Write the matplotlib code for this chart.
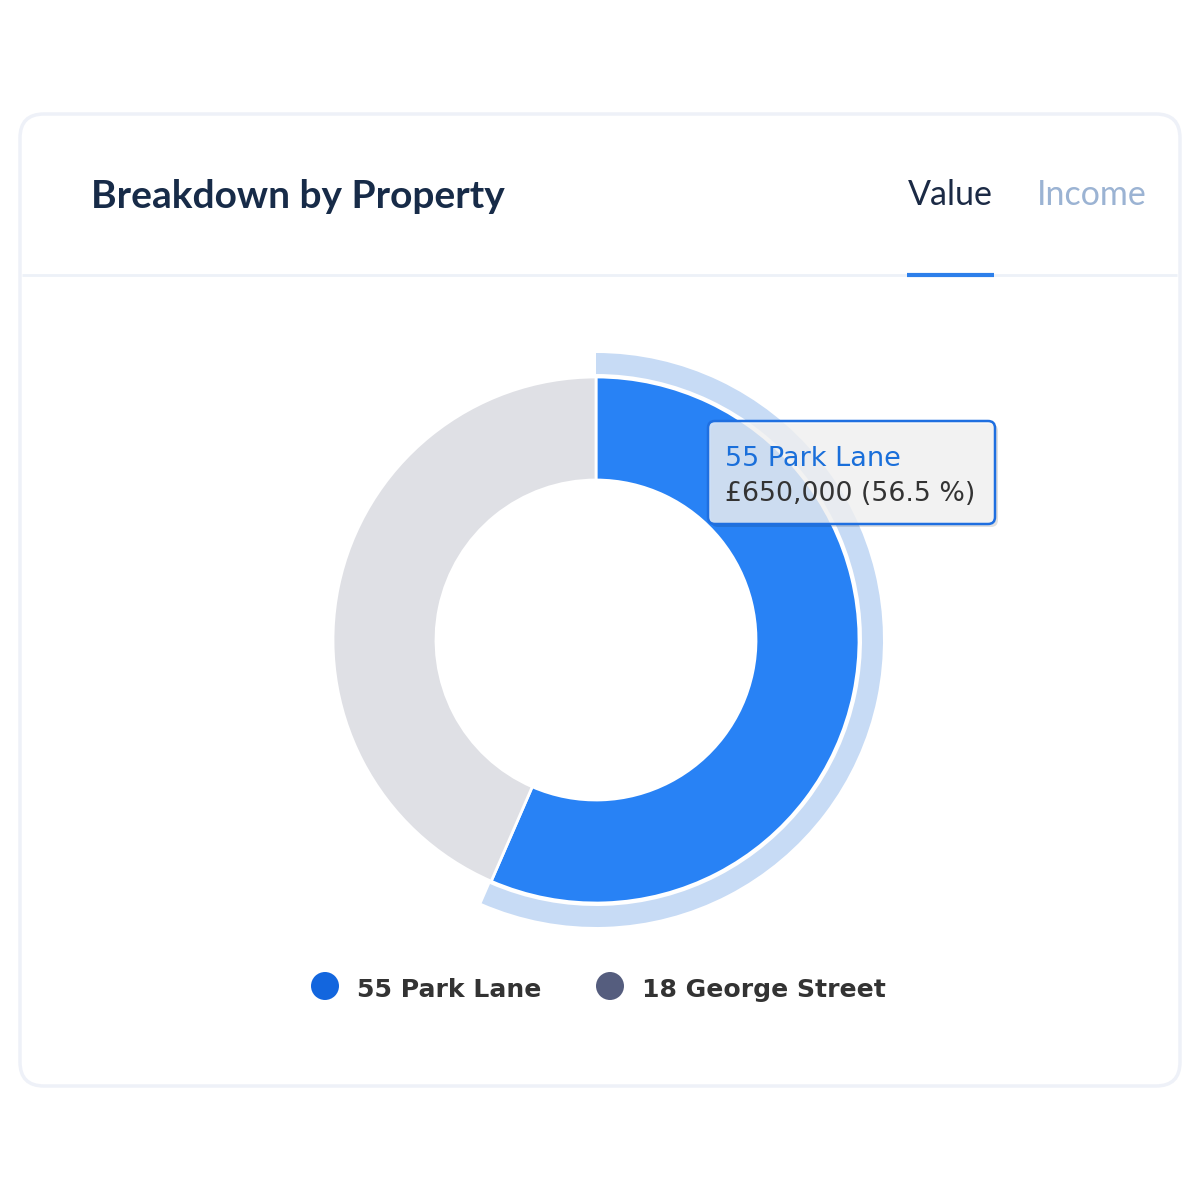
import matplotlib.pyplot as plt
import numpy as np
from matplotlib.patches import FancyBboxPatch, Wedge, Circle

# data
properties = ["55 Park Lane", "18 George Street"]
values = [650000, 500000]
slice_colors = ["#2882F5", "#DFE0E5"]
legend_colors = ["#1366DE", "#555D7E"]
highlight = 0  # hovered slice
tabs = ["Value", "Income"]

H = 1200


def Y(y):
    # pixel-from-top -> axes coordinate
    return H - y


fig = plt.figure(figsize=(12, 12), dpi=100)
ax = fig.add_axes([0, 0, 1, 1])

# card
card = FancyBboxPatch((20, Y(1086)), 1160, 972,
                      boxstyle="round,pad=0,rounding_size=24",
                      facecolor="white", edgecolor="#EEF1F8", linewidth=2.5)
ax.add_patch(card)
ax.plot([22, 1177], [Y(275), Y(275)], color="#EDF1F8", lw=2, solid_capstyle="butt")

ax.text(91, Y(208), "Breakdown by Property", fontsize=28, fontfamily="Lato",
        fontweight="bold", color="#172B48", va="baseline", ha="left")

ax.text(908, Y(205), tabs[0], fontsize=24.5, fontfamily="Lato",
        color="#1B2A45", va="baseline", ha="left")
ax.text(1037, Y(205), tabs[1], fontsize=24.5, fontfamily="Lato",
        color="#9BB3D3", va="baseline", ha="left")
ax.plot([907, 994], [Y(275), Y(275)], color="#2D7FEA", lw=3, solid_capstyle="butt")

# donut
cx, cy = 596, Y(640)
r_out, ring = 263, 103
total = sum(values)
fracs = np.array(values) / total

start = 90.0
angles = []
for f in fracs:
    end = start - f * 360
    angles.append((end, start))
    start = end

# hover halo around highlighted slice
a0, a1 = angles[highlight]
ax.add_patch(Wedge((cx, cy), 287, a0, a1, width=21, facecolor="#C7DBF5",
                   edgecolor="none"))

ax.pie(values, colors=slice_colors, startangle=90, counterclock=False,
       center=(cx, cy), radius=r_out,
       wedgeprops=dict(width=ring, edgecolor="white", linewidth=2))
ax.set_xlim(0, 1200)
ax.set_ylim(0, 1200)
ax.set_aspect("equal")
ax.axis("off")

# tooltip
tx, ty, tw, th = 708, Y(524), 287, 103
shadow = FancyBboxPatch((tx + 3, ty - 3), tw, th,
                        boxstyle="round,pad=0,rounding_size=7",
                        facecolor="#000000", alpha=0.12, edgecolor="none")
ax.add_patch(shadow)
tip = FancyBboxPatch((tx, ty), tw, th, boxstyle="round,pad=0,rounding_size=7",
                     facecolor=(0.97, 0.97, 0.97, 0.8), edgecolor="#1F6FE0",
                     linewidth=1.8)
ax.add_patch(tip)
pct = fracs[highlight] * 100
ax.text(725, Y(466), properties[highlight], fontsize=19.5, color="#1A6FDA",
        fontfamily="DejaVu Sans", va="baseline", ha="left")
ax.text(725, Y(501), f"£{values[highlight]:,} ({pct:.1f} %)", fontsize=19.3,
        color="#333333", fontfamily="DejaVu Sans", va="baseline", ha="left")

# legend
legend_x = [325, 610]
for lx, name, col in zip(legend_x, properties, legend_colors):
    ax.add_patch(Circle((lx, Y(986)), 14, facecolor=col, edgecolor="none"))
    ax.text(lx + 32, Y(997), name, fontsize=18.1, fontweight="bold",
            fontfamily="DejaVu Sans", color="#333333", va="baseline", ha="left")

fig.savefig("out.png", dpi=100, facecolor="white")
